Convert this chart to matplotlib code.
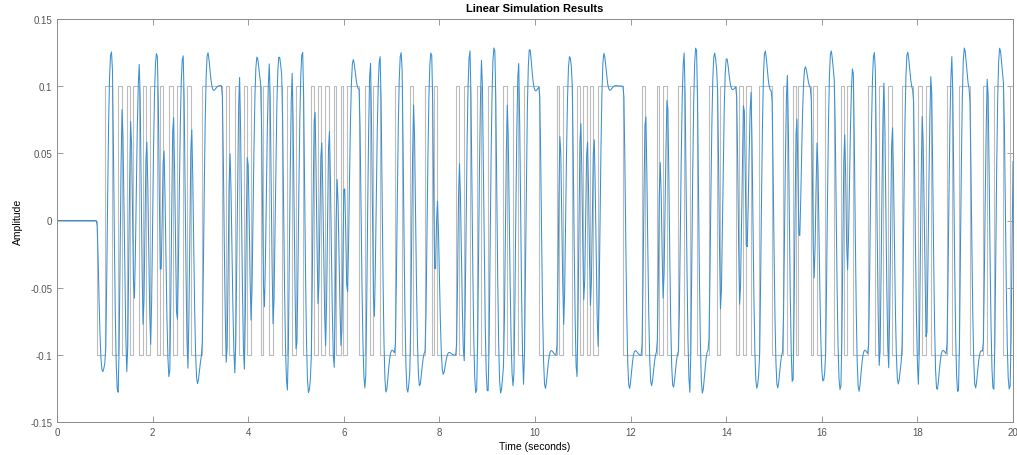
import numpy as np
import matplotlib
matplotlib.use("Agg")
from matplotlib import pyplot as plt

# switching instants of the +/-0.1 test signal (s); it drops to -0.1 at the first one
# and flips sign at every following one
switch_times = [
    0.83, 1.01, 1.15, 1.28, 1.35, 1.46, 1.53, 1.60, 1.72, 1.79, 1.86, 1.95, 2.10, 2.15,
    2.22, 2.35, 2.42, 2.50, 2.64, 2.73, 2.80, 3.03, 3.45, 3.54, 3.60, 3.72, 3.81, 3.91,
    3.97, 4.05, 4.26, 4.32, 4.44, 4.51, 4.70, 4.82, 4.91, 5.00, 5.14, 5.31, 5.38, 5.45,
    5.52, 5.61, 5.68, 5.79, 5.84, 5.94, 5.99, 6.06, 6.32, 6.45, 6.55, 6.62, 6.76, 7.07,
    7.21, 7.38, 7.45, 7.70, 7.84, 7.89, 7.94, 8.35, 8.40, 8.51, 8.64, 8.78, 8.88, 9.02,
    9.16, 9.34, 9.41, 9.55, 9.65, 9.76, 10.09, 10.45, 10.51, 10.59, 10.77, 10.87, 10.94,
    11.01, 11.08, 11.15, 11.22, 11.31, 11.85, 12.23, 12.30, 12.55, 12.60, 12.67, 12.76,
    13.00, 13.12, 13.24, 13.38, 13.63, 13.81, 13.87, 14.21, 14.27, 14.36, 14.41, 14.51,
    14.69, 14.95, 15.18, 15.27, 15.39, 15.46, 15.51, 15.77, 15.82, 15.89, 16.07, 16.26,
    16.40, 16.46, 16.52, 16.65, 16.97, 17.11, 17.20, 17.29, 17.39, 17.46, 17.67, 17.91,
    18.02, 18.09, 18.18, 18.28, 18.61, 18.72, 18.86, 19.09, 19.37, 19.46, 19.60, 19.80,
    19.94,
]
amp = 0.1
t_end = 20.0

# second order plant driven by the signal, output logged every Ts
wn = 30.0
zeta = 0.55
Ts = 0.02

xticks = [0, 2, 4, 6, 8, 10, 12, 14, 16, 18, 20]
yticks = [-0.15, -0.1, -0.05, 0, 0.05, 0.1, 0.15]
ytick_labels = ["-0.15", "-0.1", "-0.05", "0", "0.05", "0.1", "0.15"]

# input levels after each switch, drawn as a step trace
levels = [-amp if i % 2 == 0 else amp for i in range(len(switch_times))]
u_t = [0.0]
u_v = [0.0]
prev = 0.0
for ts, lv in zip(switch_times, levels):
    u_t += [ts, ts]
    u_v += [prev, lv]
    prev = lv
u_t.append(t_end)
u_v.append(prev)

# y'' + 2 zeta wn y' + wn^2 y = wn^2 u, integrated with RK4 on a fine grid
dt = 0.0005
t = np.arange(0, t_end + dt / 2, dt)
idx = np.searchsorted(np.array(switch_times), t, side="right")
u = np.concatenate([[0.0], levels])[idx]

def f(x, uk):
    return np.array([x[1], wn**2 * (uk - x[0]) - 2 * zeta * wn * x[1]])

x = np.zeros(2)
y = np.zeros_like(t)
for k in range(len(t) - 1):
    uk = u[k]
    k1 = f(x, uk)
    k2 = f(x + dt / 2 * k1, uk)
    k3 = f(x + dt / 2 * k2, uk)
    k4 = f(x + dt * k3, uk)
    x = x + dt / 6 * (k1 + 2 * k2 + 2 * k3 + k4)
    y[k + 1] = x[0]

step = int(round(Ts / dt))
t_out = t[::step]
y_out = y[::step]

plt.rcParams["font.family"] = ["Liberation Sans", "DejaVu Sans"]
fig = plt.figure(figsize=(10.17, 4.56), dpi=100)
ax = fig.add_axes([57 / 1017, 1 - 423 / 456, (1013 - 57) / 1017, (423 - 20) / 456])

ax.plot(u_t, u_v, color="#bcbcbc", lw=0.8)
ax.plot(t_out, y_out, color="#3a8fd0", lw=0.75)

ax.set_xlim(0, 20)
ax.set_ylim(-0.15, 0.15)
ax.set_xticks(xticks)
ax.set_xticklabels([str(v) for v in xticks])
ax.set_yticks(yticks)
ax.set_yticklabels(ytick_labels)
ax.tick_params(direction="in", length=4, width=0.6, colors="#8a8a8a", labelcolor="#555555",
               labelsize=7, top=True, right=True)
for s in ax.spines.values():
    s.set_color("#8a8a8a")
    s.set_linewidth(0.7)

ax.set_title("Linear Simulation Results", fontsize=8, fontweight="bold", pad=6)
ax.set_xlabel("Time (seconds)", fontsize=7.5, labelpad=3)
ax.set_ylabel("Amplitude", fontsize=7.5, labelpad=5)

fig.savefig("out.png", dpi=100, facecolor="white")
